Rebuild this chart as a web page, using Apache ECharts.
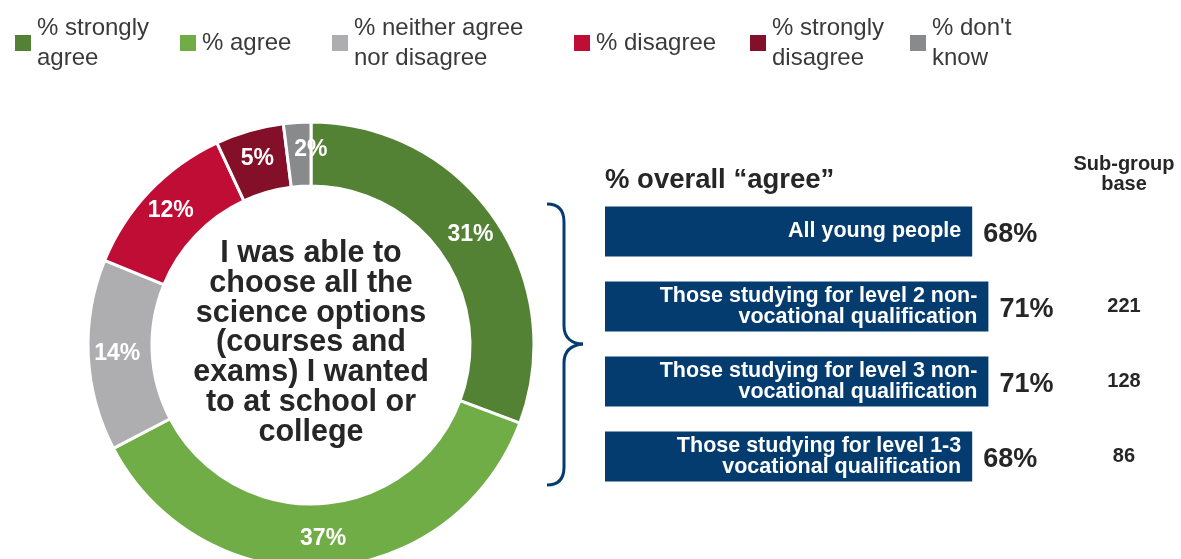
<!DOCTYPE html>
<html>
<head>
<meta charset="utf-8">
<script src="https://cdn.jsdelivr.net/npm/echarts@6/dist/echarts.min.js"></script>
<style>
  html, body { margin: 0; padding: 0; background: #fff; }
  #chart { width: 1181px; height: 559px; }
</style>
</head>
<body>
<div id="chart"></div>
<script>
// 数据
const shareNames = ['% strongly agree', '% agree', '% neither agree nor disagree', '% disagree', '% strongly disagree', "% don't know"];
const shareLegendText = ['% strongly\nagree', '% agree', '% neither agree\nnor disagree', '% disagree', '% strongly\ndisagree', "% don't\nknow"];
const shareValues = [31, 37, 14, 12, 5, 2];
const shareColors = ['#548235', '#70ad47', '#aeaeb0', '#c00d35', '#830f28', '#898a8c'];

const groupLabels = [
  'All young people',
  'Those studying for level 2 non-\nvocational qualification',
  'Those studying for level 3 non-\nvocational qualification',
  'Those studying for level 1-3\nvocational qualification'
];
const agreeValues = [68, 71, 71, 68];
const baseSizes = ['', '221', '128', '86'];

const centerText = 'I was able to\nchoose all the\nscience options\n(courses and\nexams) I wanted\nto at school or\ncollege';

const FONT = '"Liberation Sans", Arial, sans-serif';
const NAVY = '#053c70';
const DARK = '#262626';

const chart = echarts.init(document.getElementById('chart'), null, { renderer: 'canvas' });

// 图例位置（每项单独放）
const legendLeft = [13, 178, 330, 572, 748, 908];
const legends = shareNames.map((name, i) => ({
  data: [name],
  left: legendLeft[i],
  top: shareLegendText[i].includes('\n') ? 13 : 28,
  icon: 'rect',
  itemWidth: 18,
  itemHeight: 18,
  itemGap: 0,
  padding: 0,
  selectedMode: false,
  formatter: () => shareLegendText[i],
  textStyle: { fontFamily: FONT, fontSize: 24, lineHeight: 30, color: '#3a3a3a' }
}));

// 大括号
const braceStyle = { fill: 'none', stroke: NAVY, lineWidth: 3 };
const brace = [
  { type: 'bezierCurve', shape: { x1: 547, y1: 204, cpx1: 558, cpy1: 204, cpx2: 564, cpy2: 210, x2: 564, y2: 222 } },
  { type: 'line', shape: { x1: 564, y1: 222, x2: 564, y2: 326 } },
  { type: 'bezierCurve', shape: { x1: 564, y1: 326, cpx1: 564, cpy1: 338, cpx2: 572, cpy2: 344, x2: 583, y2: 344 } },
  { type: 'bezierCurve', shape: { x1: 583, y1: 344, cpx1: 572, cpy1: 345, cpx2: 564, cpy2: 350, x2: 564, y2: 363 } },
  { type: 'line', shape: { x1: 564, y1: 363, x2: 564, y2: 467 } },
  { type: 'bezierCurve', shape: { x1: 564, y1: 467, cpx1: 564, cpy1: 479, cpx2: 558, cpy2: 485, x2: 547, y2: 485 } }
].map(el => Object.assign(el, { style: braceStyle }));

const option = {
  animation: false,
  backgroundColor: '#fff',
  textStyle: { fontFamily: FONT },
  legend: legends,
  title: [
    {
      text: '% overall “agree”',
      left: 605,
      top: 166,
      padding: 0,
      textStyle: { fontFamily: FONT, fontSize: 27.5, fontWeight: 'bold', color: DARK }
    },
    {
      text: 'Sub-group\nbase',
      left: 1124,
      top: 154,
      padding: 0,
      textAlign: 'center',
      textStyle: { fontFamily: FONT, fontSize: 20, lineHeight: 20, fontWeight: 'bold', color: DARK }
    }
  ],
  grid: { left: 605, top: 194, width: 540, height: 300 },
  xAxis: { type: 'value', min: 0, max: 100, show: false },
  yAxis: { type: 'category', data: groupLabels, inverse: true, show: false },
  graphic: [
    {
      type: 'text',
      x: 311,
      y: 343,
      style: {
        text: centerText,
        fontFamily: FONT,
        fontSize: 30.5,
        fontWeight: 'bold',
        lineHeight: 29.8,
        fill: DARK,
        align: 'center',
        verticalAlign: 'middle'
      }
    }
  ].concat(brace),
  series: [
    {
      type: 'pie',
      center: [311, 345],
      radius: [159, 223],
      startAngle: 90,
      clockwise: true,
      avoidLabelOverlap: false,
      itemStyle: { borderColor: '#fff', borderWidth: 3 },
      label: {
        show: true,
        position: 'inside',
        formatter: '{c}%',
        color: '#fff',
        fontFamily: FONT,
        fontSize: 23,
        fontWeight: 'bold'
      },
      labelLine: { show: false },
      emphasis: { disabled: true },
      data: shareNames.map((name, i) => ({
        name,
        value: shareValues[i],
        itemStyle: { color: shareColors[i] },
        // 2% 标签在原图中略偏右
        label: i === 5 ? { offset: [12, -2] } : undefined
      }))
    },
    {
      type: 'bar',
      data: agreeValues,
      barWidth: 50,
      itemStyle: { color: NAVY },
      label: {
        show: true,
        position: 'insideRight',
        distance: 11,
        formatter: p => groupLabels[p.dataIndex],
        color: '#fff',
        fontFamily: FONT,
        fontSize: 21.5,
        lineHeight: 21,
        fontWeight: 'bold',
        align: 'right'
      },
      emphasis: { disabled: true }
    },
    {
      type: 'bar',
      data: agreeValues,
      barWidth: 50,
      barGap: '-100%',
      itemStyle: { color: 'transparent' },
      label: {
        show: true,
        position: 'right',
        distance: 11,
        offset: [0, 3],
        formatter: '{c}%',
        color: DARK,
        fontFamily: FONT,
        fontSize: 27,
        fontWeight: 'bold'
      },
      emphasis: { disabled: true }
    },
    {
      // 样本量列
      type: 'scatter',
      symbolSize: 0,
      itemStyle: { opacity: 1 },
      data: baseSizes.map((b, i) => [96.1, i]),
      label: {
        show: true,
        position: 'inside',
        formatter: p => baseSizes[p.dataIndex],
        color: DARK,
        fontFamily: FONT,
        fontSize: 20,
        fontWeight: 'bold'
      },
      emphasis: { disabled: true }
    }
  ]
};

chart.setOption(option);
</script>
</body>
</html>
